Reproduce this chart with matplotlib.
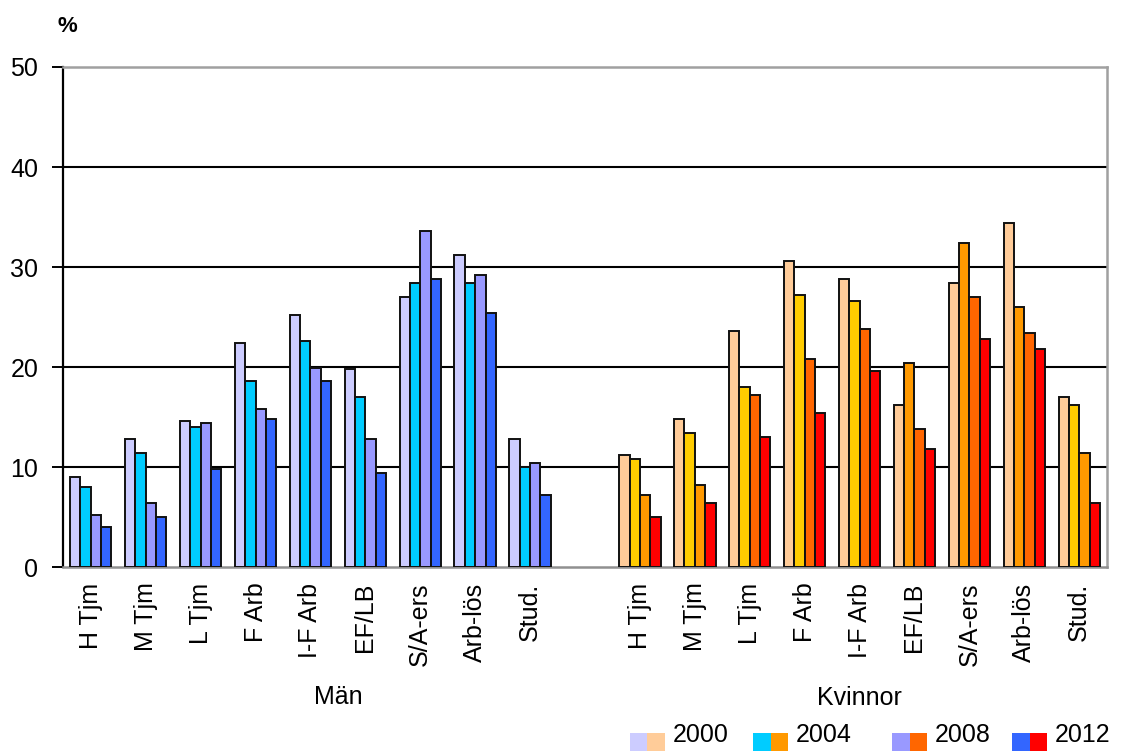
import matplotlib
matplotlib.use("Agg")
import matplotlib.pyplot as plt
from matplotlib.patches import Rectangle
import numpy as np

plt.rcParams['font.family'] = ['Liberation Sans', 'DejaVu Sans']

categories = ["H Tjm", "M Tjm", "L Tjm", "F Arb", "I-F Arb", "EF/LB", "S/A-ers", "Arb-lös", "Stud."]
groups = ["Män", "Kvinnor"]
years = ["2000", "2004", "2008", "2012"]

man_2000 = [9.0, 12.8, 14.6, 22.4, 25.2, 19.8, 27.0, 31.2, 12.8]
man_2004 = [8.0, 11.4, 14.0, 18.6, 22.6, 17.0, 28.4, 28.4, 10.0]
man_2008 = [5.2, 6.4, 14.4, 15.8, 19.9, 12.8, 33.6, 29.2, 10.4]
man_2012 = [4.0, 5.0, 9.8, 14.8, 18.6, 9.4, 28.8, 25.4, 7.2]

kv_2000 = [11.2, 14.8, 23.6, 30.6, 28.8, 16.2, 28.4, 34.4, 17.0]
kv_2004 = [10.8, 13.4, 18.0, 27.2, 26.6, 20.4, 32.4, 26.0, 16.2]
kv_2008 = [7.2, 8.2, 17.2, 20.8, 23.8, 13.8, 27.0, 23.4, 11.4]
kv_2012 = [5.0, 6.4, 13.0, 15.4, 19.6, 11.8, 22.8, 21.8, 6.4]

yticks = [0, 10, 20, 30, 40, 50]

# styles
man_colors = ["#CCCCFF", "#00CCFF", "#9999FF", "#3366FF"]
kv_colors = ["#FFCC99", "#FF9900", "#FF6600", "#FF0000"]
# per-category colour of women's bars as drawn in the original (2000, 2004, 2008, 2012)
kv_bar_colors = [
    ["#FFCC99", "#FFCC00", "#FF9900", "#FF0000"],
    ["#FFCC99", "#FFCC00", "#FF9900", "#FF0000"],
    ["#FFCC99", "#FFCC00", "#FF6600", "#FF0000"],
    ["#FFCC99", "#FFCC00", "#FF6600", "#FF0000"],
    ["#FFCC99", "#FFCC00", "#FF6600", "#FF0000"],
    ["#FFCC99", "#FF9900", "#FF6600", "#FF0000"],
    ["#FFCC99", "#FF9900", "#FF6600", "#FF0000"],
    ["#FFCC99", "#FF9900", "#FF6600", "#FF0000"],
    ["#FFCC99", "#FFCC00", "#FF9900", "#FF0000"],
]

W, H = 1128, 751
fig = plt.figure(figsize=(W / 100, H / 100), dpi=100)
ax = fig.add_axes([63.3 / W, 1 - 567.3 / H, (1106.7 - 63.3) / W, (567.3 - 67) / H])

n = len(categories)
x_man = np.arange(n)
x_kv = np.arange(n) + n + 1
bw = 0.1885
offs = (np.arange(4) - 1.5) * bw

man_series = [man_2000, man_2004, man_2008, man_2012]
kv_series = [kv_2000, kv_2004, kv_2008, kv_2012]

for i in range(4):
    ax.bar(x_man + offs[i], man_series[i], width=bw, color=man_colors[i],
           edgecolor="#111111", linewidth=1.4, zorder=3)
    ax.bar(x_kv + offs[i], kv_series[i], width=bw,
           color=[kv_bar_colors[j][i] for j in range(n)],
           edgecolor="#111111", linewidth=1.4, zorder=3)

ax.set_xlim(-0.5, 2 * n + 0.5)
ax.set_ylim(0, 50)
ax.set_yticks(yticks)
ax.set_yticklabels([str(t) for t in yticks], fontsize=18)
for t in yticks[1:-1]:
    ax.axhline(t, color="black", linewidth=1.5, zorder=1)

ax.tick_params(axis="y", length=8, width=1.4, direction="out", pad=10, colors="black")
xt = list(x_man) + list(x_kv)
ax.set_xticks(xt)
ax.set_xticklabels(categories + categories, rotation=90, fontsize=18, va="top", ha="center")
ax.tick_params(axis="x", length=0, pad=11)

for s in ["top", "right"]:
    ax.spines[s].set_color("#a0a0a0")
    ax.spines[s].set_linewidth(1.8)
ax.spines["left"].set_color("black")
ax.spines["left"].set_linewidth(1.6)
ax.spines["bottom"].set_color("#909090")
ax.spines["bottom"].set_linewidth(1.8)

# group labels
fig.text(338 / W, 1 - 697 / H, groups[0], fontsize=18, ha="center", va="center")
fig.text(859 / W, 1 - 698 / H, groups[1], fontsize=18, ha="center", va="center")

# % label
fig.text(67 / W, 1 - 27 / H, "%", fontsize=16, fontweight="bold", ha="center", va="center")

# legend (pairs of patches: Män / Kvinnor)
leg_x = [630, 753, 892, 1012]
pw, ph = 17.5, 18
for i in range(4):
    x0 = leg_x[i]
    fig.add_artist(Rectangle((x0 / W, (H - 751) / H), pw / W, ph / H,
                             transform=fig.transFigure, facecolor=man_colors[i], edgecolor="none"))
    fig.add_artist(Rectangle(((x0 + pw) / W, (H - 751) / H), pw / W, ph / H,
                             transform=fig.transFigure, facecolor=kv_colors[i], edgecolor="none"))
    fig.text((x0 + 2 * pw + 8) / W, 1 - 742 / H, years[i], fontsize=18, ha="left", va="baseline")

fig.savefig("out.png", dpi=100)
